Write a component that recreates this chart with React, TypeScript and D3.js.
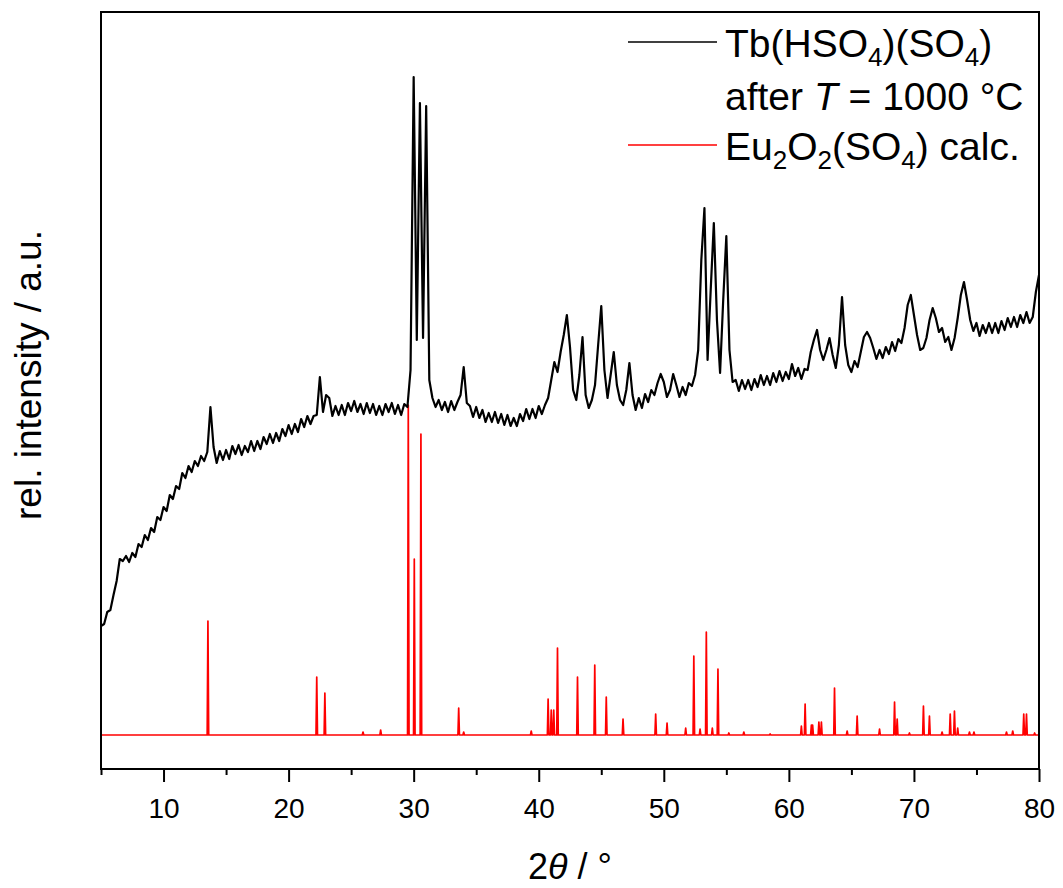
import React, { useRef, useEffect } from 'react';
import * as d3 from 'd3';

// measured pattern: Tb(HSO4)(SO4) after T = 1000 °C, 2θ from 5° in 0.25° steps (rel. units)
const tbStart = 5;
const tbStep = 0.25;
const tbIntensity = [
  109, 111, 123, 125, 140, 154, 176, 174, 179, 173, 182, 178, 191, 188, 200, 195, 207, 203, 218, 215,
  228, 224, 240, 236, 249, 246, 262, 257, 269, 263, 274, 269, 279, 274, 283, 328, 288, 272, 284, 275,
  285, 276, 289, 281, 290, 280, 289, 283, 294, 284, 294, 286, 298, 291, 301, 292, 302, 294, 306, 299,
  310, 301, 311, 303, 316, 308, 319, 311, 319, 320, 358, 323, 340, 337, 319, 329, 320, 330, 320, 332,
  324, 334, 323, 331, 321, 332, 322, 331, 320, 329, 320, 331, 323, 332, 321, 330, 320, 331, 328, 365,
  658, 395, 632, 397, 629, 355, 337, 328, 335, 325, 333, 323, 334, 325, 333, 340, 368, 332, 329, 318,
  328, 317, 325, 313, 322, 313, 323, 312, 321, 310, 320, 309, 317, 309, 321, 314, 326, 316, 326, 317,
  329, 321, 330, 337, 355, 373, 363, 383, 400, 420, 388, 345, 335, 360, 398, 340, 327, 335, 350, 390,
  429, 365, 337, 360, 383, 350, 335, 330, 345, 372, 340, 325, 337, 327, 341, 333, 345, 340, 352, 361,
  353, 338, 345, 361, 350, 338, 348, 340, 352, 349, 360, 385, 475, 527, 375, 445, 512, 415, 362, 435,
  499, 385, 353, 355, 344, 355, 346, 355, 345, 356, 348, 360, 350, 359, 350, 362, 353, 364, 354, 363,
  356, 371, 359, 367, 356, 366, 365, 383, 395, 405, 385, 375, 385, 397, 380, 367, 390, 438, 390, 370,
  363, 374, 368, 383, 398, 403, 397, 387, 376, 385, 377, 388, 381, 393, 384, 396, 392, 407, 430, 440,
  420, 400, 385, 387, 397, 415, 427, 417, 403, 407, 393, 398, 385, 397, 417, 440, 453, 435, 415, 404,
  412, 399, 410, 402, 412, 402, 412, 402, 414, 405, 417, 408, 418, 408, 420, 412, 423, 412, 418, 443,
  460,
];

// calculated reflections: Eu2O2(SO4)
const euPos = [
  13.55, 22.25, 22.9, 25.95, 27.36, 29.57, 30.05, 30.58, 33.6, 34.0,
  39.4, 40.75, 41.0, 41.2, 41.5, 43.1, 44.48, 45.4, 46.74, 49.35,
  50.26, 51.75, 52.4, 52.9, 53.4, 53.88, 54.33, 55.2, 56.4, 58.5,
  61.0, 61.3, 61.8, 61.9, 62.4, 62.6, 63.65, 64.66, 65.46, 67.25,
  68.45, 68.66, 69.64, 70.76, 71.24, 72.25, 72.9, 73.24, 73.5, 74.44,
  74.8, 77.4, 77.9, 78.78, 79.0, 79.65,
];
const euInt = [
  114, 58, 42, 3, 5, 330, 176, 301, 27, 3,
  4, 36, 25, 25, 87, 58, 70, 38, 16, 21,
  12, 7, 79, 6, 103, 7, 66, 2, 3, 1,
  9, 31, 10, 10, 13, 13, 47, 4, 19, 6,
  33, 16, 2, 29, 19, 3, 21, 24, 7, 3,
  3, 3, 4, 21, 21, 2,
];

const xMajor = [10, 20, 30, 40, 50, 60, 70, 80];
const xMinor = [5, 15, 25, 35, 45, 55, 65, 75];

export default function App() {
  const ref = useRef(null);

  const W = 1063;
  const H = 888;
  const margin = { top: 12, right: 24, bottom: 119, left: 101 };
  const width = W - margin.left - margin.right;
  const height = H - margin.top - margin.bottom;
  const font = '"Liberation Sans", Arial, sans-serif';

  useEffect(() => {
    const svg = d3.select(ref.current);
    svg.selectAll('*').remove();

    const x = d3.scaleLinear().domain([5, 80]).range([0, width]);
    const y = d3.scaleLinear().domain([-34, 723]).range([height, 0]);

    const g = svg.append('g').attr('transform', `translate(${margin.left},${margin.top})`);

    // calculated pattern as sticks
    const halfW = 0.06;
    const calc: [number, number][] = [[5, 0]];
    euPos.forEach((p, i) => {
      calc.push([p - halfW, 0], [p, euInt[i]], [p + halfW, 0]);
    });
    calc.push([80, 0]);

    const line = d3.line<[number, number]>()
      .x(d => x(d[0]))
      .y(d => y(d[1]));

    g.append('path')
      .datum(calc)
      .attr('fill', 'none')
      .attr('stroke', '#ff0000')
      .attr('stroke-width', 1.7)
      .attr('stroke-linejoin', 'round')
      .attr('d', line);

    // measured pattern
    const meas: [number, number][] = tbIntensity.map((v, i) => [tbStart + i * tbStep, v]);
    g.append('path')
      .datum(meas)
      .attr('fill', 'none')
      .attr('stroke', '#000')
      .attr('stroke-width', 2.2)
      .attr('stroke-linejoin', 'round')
      .attr('d', line);

    // frame
    g.append('rect')
      .attr('width', width)
      .attr('height', height)
      .attr('fill', 'none')
      .attr('stroke', '#000')
      .attr('stroke-width', 2);

    // x axis
    const ax = g.append('g')
      .attr('transform', `translate(0,${height})`)
      .call(d3.axisBottom(x).tickValues(xMajor).tickSize(13).tickSizeOuter(0).tickPadding(16).tickFormat(d3.format('d')));
    ax.select('.domain').remove();
    ax.selectAll('line').attr('stroke-width', 2);
    ax.selectAll('text').attr('font-size', 28).attr('font-family', font).attr('fill', '#000');

    const axm = g.append('g')
      .attr('transform', `translate(0,${height})`)
      .call(d3.axisBottom(x).tickValues(xMinor).tickSize(6).tickSizeOuter(0).tickFormat(() => ''));
    axm.select('.domain').remove();
    axm.selectAll('line').attr('stroke-width', 2);

    // axis titles
    const xt = svg.append('text')
      .attr('x', margin.left + width / 2)
      .attr('y', 879)
      .attr('text-anchor', 'middle')
      .attr('font-family', font)
      .attr('font-size', 36);
    xt.append('tspan').text('2');
    xt.append('tspan').attr('font-style', 'italic').text('θ');
    xt.append('tspan').text(' / °');

    svg.append('text')
      .attr('transform', `translate(41,${375}) rotate(-90)`)
      .attr('text-anchor', 'middle')
      .attr('font-family', font)
      .attr('font-size', 37)
      .text('rel. intensity / a.u.');

    // legend
    const lx1 = 628, lx2 = 717, tx = 725;
    const rich = (yy: number, parts: { t: string; sub?: boolean; it?: boolean }[]) => {
      const t = svg.append('text')
        .attr('x', tx)
        .attr('y', yy)
        .attr('font-family', font)
        .attr('font-size', 39);
      let shifted = false;
      parts.forEach(p => {
        const ts = t.append('tspan').text(p.t);
        if (p.sub) {
          ts.attr('font-size', 26).attr('dy', shifted ? 0 : 9);
          shifted = true;
        } else {
          if (shifted) ts.attr('dy', -9);
          shifted = false;
        }
        if (p.it) ts.attr('font-style', 'italic');
      });
    };

    svg.append('line').attr('x1', lx1).attr('x2', lx2).attr('y1', 42).attr('y2', 42)
      .attr('stroke', '#000').attr('stroke-width', 1.6);
    rich(57, [{ t: 'Tb(HSO' }, { t: '4', sub: true }, { t: ')(SO' }, { t: '4', sub: true }, { t: ')' }]);
    rich(110, [{ t: 'after ' }, { t: 'T', it: true }, { t: ' = 1000 °C' }]);
    svg.append('line').attr('x1', lx1).attr('x2', lx2).attr('y1', 145).attr('y2', 145)
      .attr('stroke', '#ff0000').attr('stroke-width', 1.6);
    rich(160, [{ t: 'Eu' }, { t: '2', sub: true }, { t: 'O' }, { t: '2', sub: true }, { t: '(SO' }, { t: '4', sub: true }, { t: ') calc.' }]);
  }, []);

  return (
    <svg
      ref={ref}
      width={W}
      height={H}
      style={{ position: 'absolute', left: 0, top: 0, background: '#fff' }}
    />
  );
}
